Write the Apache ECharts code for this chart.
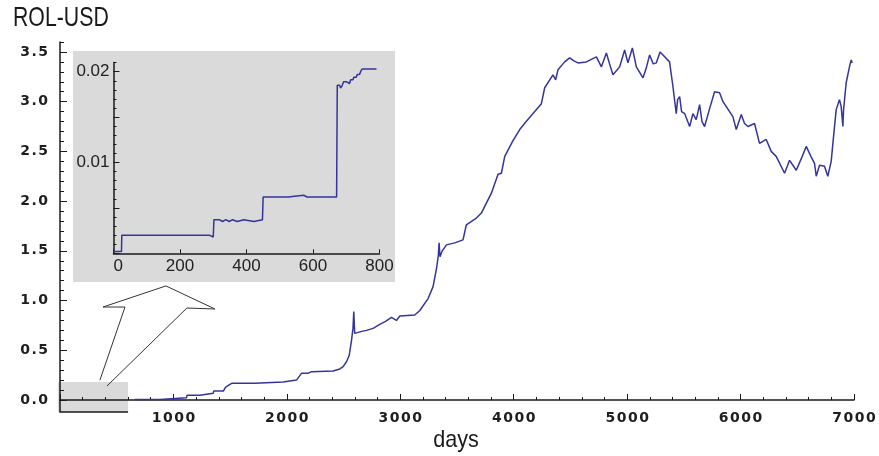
<!DOCTYPE html>
<html><head><meta charset="utf-8">
<script src="https://cdn.jsdelivr.net/npm/echarts@6/dist/echarts.min.js"></script>
<style>html,body{margin:0;padding:0;background:#fff}#c{width:879px;height:456px}</style>
</head><body><div id="c"></div>
<script>
// ---- data ----
const mainDays = [660,880,885,1116,1120,1233,1238,1351,1355,1440,1460,1513,1718,1722,1968,1972,2085,2129,2190,2217,2408,2467,2496,2526,2550,2570,2583,2590,2598,2614,2660,2702,2760,2819,2870,2922,2966,2996,3128,3172,3245,3289,3319,3335,3342,3350,3370,3407,3480,3553,3582,3671,3715,3803,3862,3891,3921,3990,4053,4110,4170,4244,4273,4346,4370,4390,4449,4493,4530,4567,4640,4729,4773,4817,4845,4875,4934,4978,5007,5046,5081,5140,5169,5198,5230,5257,5290,5316,5374,5404,5420,5433,5445,5463,5480,5507,5551,5580,5609,5639,5660,5683,5727,5771,5815,5845,5874,5932,5962,6006,6035,6065,6123,6167,6226,6270,6314,6388,6432,6491,6540,6579,6620,6652,6667,6696,6740,6769,6799,6813,6843,6872,6887,6902,6908,6931,6960,6975,6984];
const mainValues = [0.005,0.005,0.023,0.023,0.047,0.047,0.067,0.067,0.09,0.09,0.13,0.168,0.168,0.181,0.181,0.2,0.2,0.268,0.27,0.285,0.292,0.312,0.335,0.385,0.45,0.6,0.72,0.89,0.67,0.67,0.69,0.70,0.72,0.76,0.79,0.83,0.80,0.845,0.855,0.9,1.02,1.14,1.32,1.45,1.58,1.44,1.50,1.56,1.58,1.61,1.76,1.83,1.88,2.08,2.27,2.28,2.45,2.60,2.72,2.80,2.88,2.98,3.14,3.27,3.22,3.32,3.40,3.44,3.41,3.39,3.40,3.45,3.35,3.49,3.38,3.27,3.35,3.52,3.39,3.54,3.35,3.24,3.34,3.47,3.38,3.39,3.50,3.47,3.40,3.15,3.00,2.88,3.02,3.05,2.90,2.88,2.75,2.88,2.82,2.97,2.80,2.75,2.93,3.10,3.09,3.00,2.95,2.85,2.72,2.87,2.78,2.75,2.78,2.58,2.62,2.50,2.45,2.28,2.41,2.31,2.44,2.55,2.45,2.38,2.25,2.36,2.35,2.25,2.40,2.57,2.92,3.02,2.95,2.75,2.92,3.19,3.35,3.42,3.39];
const insetDays = [0,24,25,288,290,300,302,318,320,328,330,338,340,348,350,358,360,372,375,392,395,422,425,448,450,525,528,572,575,582,585,590,600,605,610,671,673,680,683,688,692,700,703,710,713,720,723,730,733,740,743,746,748,791];
const insetValues = [0.0002,0.0002,0.002,0.002,0.0018,0.0018,0.0037,0.0037,0.0035,0.0035,0.0037,0.0037,0.0035,0.0035,0.0037,0.0037,0.0035,0.0035,0.0037,0.0037,0.0035,0.0035,0.0037,0.0037,0.0062,0.0062,0.0064,0.0064,0.0062,0.0062,0.0064,0.0062,0.0062,0.0064,0.0062,0.0062,0.0185,0.0185,0.0182,0.0185,0.0189,0.0189,0.0187,0.0187,0.0191,0.0191,0.0194,0.0194,0.0197,0.0197,0.0200,0.0200,0.0203,0.0203];
const mainXTicks = [0,1000,2000,3000,4000,5000,6000,7000];
const mainYTicks = [0,0.5,1,1.5,2,2.5,3,3.5];
const insetXTicks = [0,200,400,600,800];
const insetYMajor = [0,0.005,0.01,0.015,0.02];
const insetYLabels = [0.01,0.02];
const zoomBoxDays = [0,600];
const zoomBoxValues = [-0.12,0.18];
const arrowDays = [352,573,379,934,1366,1119,414];
const arrowValues = [0.20,0.935,0.935,1.147,0.915,0.925,0.14];

// ---- styles ----
const AX = '#1a1a1a';
const LINE = '#34349c';
function spaced(s){ return s.split('').map(c => '{d|' + c + '}').join('{s| }'); }
const richTick = {
  d: {fontFamily: 'DejaVu Sans', fontSize: 14, fontWeight: 'bold', color: '#1e1e1e'},
  s: {fontSize: 2, width: 1.5}
};
const insetFont = {fontFamily: 'Liberation Sans', fontSize: 17, color: '#222'};

const chart = echarts.init(document.getElementById('c'), null, {renderer: 'canvas'});
const option = {
  animation: false,
  grid: [
    {left: 60, right: 25, top: 42, bottom: 56},
    {left: 113.5, width: 266, top: 62.6, height: 190.7}
  ],
  xAxis: [
    {gridIndex: 0, type: 'value', position: 'bottom', min: 0, max: 7000, interval: 1000,
     axisLine: {onZero: false, lineStyle: {color: AX, width: 1.5}},
     axisTick: {inside: true, length: 6, lineStyle: {color: AX, width: 1}},
     minorTick: {show: true, splitNumber: 5, length: 3, lineStyle: {color: AX, width: 1}},
     splitLine: {show: false},
     axisLabel: {margin: 11, customValues: mainXTicks, formatter: v => v === 0 ? '' : spaced(String(v)), rich: richTick}},
    {gridIndex: 1, type: 'value', position: 'bottom', min: 0, max: 800, interval: 200,
     axisLine: {onZero: false, lineStyle: {color: AX, width: 1.5}},
     axisTick: {inside: true, length: 4, customValues: insetXTicks, lineStyle: {color: AX}},
     splitLine: {show: false},
     axisLabel: Object.assign({margin: 5, customValues: insetXTicks, alignMinLabel: 'left'}, insetFont)}
  ],
  yAxis: [
    {gridIndex: 0, type: 'value', position: 'left', min: 0, max: 3.6, interval: 0.1,
     axisLine: {show: true, onZero: false, lineStyle: {color: AX, width: 1.5}},
     axisTick: {show: true, inside: true, length: 4, lineStyle: {color: AX}},
     axisLabel: {show: false}, splitLine: {show: false}},
    {gridIndex: 0, type: 'value', position: 'left', offset: 0, min: 0, max: 3.6,
     axisLine: {show: false, onZero: false},
     axisTick: {show: true, inside: true, length: 7, customValues: mainYTicks, lineStyle: {color: AX}},
     axisLabel: {margin: 12, customValues: mainYTicks, formatter: v => spaced(v.toFixed(1)), rich: richTick},
     splitLine: {show: false}},
    {gridIndex: 1, type: 'value', position: 'left', min: 0, max: 0.021, interval: 0.001,
     axisLine: {show: true, onZero: false, lineStyle: {color: AX, width: 1.5}},
     axisTick: {show: true, inside: true, length: 3, lineStyle: {color: AX}},
     axisLabel: {show: false}, splitLine: {show: false}},
    {gridIndex: 1, type: 'value', position: 'left', offset: 0, min: 0, max: 0.021,
     axisLine: {show: false, onZero: false},
     axisTick: {show: true, inside: true, length: 6, customValues: insetYMajor, lineStyle: {color: AX}},
     axisLabel: Object.assign({margin: 4, customValues: insetYLabels, formatter: v => v.toFixed(2)}, insetFont),
     splitLine: {show: false}}
  ],
  series: [
    {type: 'line', xAxisIndex: 0, yAxisIndex: 0, showSymbol: false, silent: true,
     data: mainDays.map((d, i) => [d, mainValues[i]]),
     lineStyle: {color: LINE, width: 1.5}},
    {type: 'line', xAxisIndex: 1, yAxisIndex: 2, showSymbol: false, silent: true,
     data: insetDays.map((d, i) => [d, insetValues[i]]),
     lineStyle: {color: LINE, width: 1.5}}
  ]
};
chart.setOption(option);

const px = (d, v) => chart.convertToPixel({xAxisIndex: 0, yAxisIndex: 0}, [d, v]);
const b0 = px(zoomBoxDays[0], zoomBoxValues[1]);
const b1 = px(zoomBoxDays[1], zoomBoxValues[0]);
const yZero = px(0, 0)[1];
chart.setOption({
  graphic: [
    {type: 'rect', z: -5, shape: {x: 73, y: 51, width: 322, height: 231}, style: {fill: '#dadada'}},
    {type: 'rect', z: -5, shape: {x: b0[0] - 2, y: b0[1], width: b1[0] - b0[0] + 2, height: b1[1] - b0[1]}, style: {fill: '#dadada'}},
    {type: 'polyline', z: 5, shape: {points: [[b0[0], yZero], [b0[0], b1[1]], [b1[0], b1[1]]]}, style: {stroke: AX, lineWidth: 1.5, fill: null}},
    {type: 'polyline', z: 5, shape: {points: arrowDays.map((d, i) => px(d, arrowValues[i]))}, style: {stroke: '#333', lineWidth: 1, fill: null}},
    {type: 'text', z: 10, x: 13, y: 18, scaleX: 0.76,
     style: {text: 'ROL-USD', font: '28px "Liberation Sans"', fill: '#1a1a1a', textAlign: 'left', textVerticalAlign: 'middle'}},
    {type: 'text', z: 10, x: 456, y: 440, scaleX: 0.9,
     style: {text: 'days', font: '24px "Liberation Sans"', fill: '#1a1a1a', textAlign: 'center', textVerticalAlign: 'middle'}}
  ]
});
</script></body></html>
